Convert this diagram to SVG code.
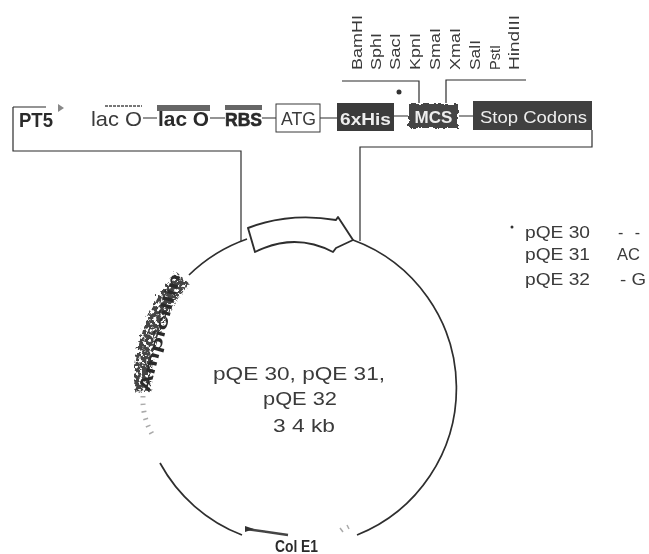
<svg xmlns="http://www.w3.org/2000/svg" width="649" height="554" viewBox="0 0 649 554">
<defs><filter id="blur" x="-5%" y="-5%" width="110%" height="110%"><feGaussianBlur stdDeviation="0.55"/></filter>
<filter id="rough" x="-20%" y="-20%" width="140%" height="140%"><feTurbulence type="fractalNoise" baseFrequency="0.3" numOctaves="2" seed="4"/><feDisplacementMap in="SourceGraphic" scale="5"/></filter>
<filter id="mottle" x="-20%" y="-10%" width="140%" height="120%"><feTurbulence type="fractalNoise" baseFrequency="0.28" numOctaves="3" seed="9" result="n"/><feDisplacementMap in="SourceGraphic" in2="n" scale="9" result="d"/><feColorMatrix in="n" type="matrix" values="0 0 0 0 0 0 0 0 0 0 0 0 0 0 0 0 0 0 9 -3.300" result="a"/><feComposite in="d" in2="a" operator="in"/></filter></defs>
<style>
.l{fill:none;stroke:#2e2e2e;stroke-width:1.2}
.c{fill:none;stroke:#2e2e2e;stroke-width:1.7}
.t{font-family:"Liberation Sans",Arial,sans-serif;fill:#3a3a3a}
.b{font-weight:bold;fill:#2a2a2a}
.w{fill:#eee;font-family:"Liberation Sans",Arial,sans-serif}
.d{fill:#333}
</style>
<rect width="649" height="554" fill="#fff"/>
<g filter="url(#blur)">
<g id="connectors">
<path class="l" d="M13 107V151H241V241"/>
<path class="l" d="M592 130V147H360V241"/>
<path class="l" d="M143 118H157M210 118H225M262 118H276M320 118H337M394 116H408M459 116H473"/>
<path class="l" d="M342 81H419V103M446 103V80H526"/>
</g>
<g id="plasmid">
<path class="c" d="M247 239A158 158 0 0 0 189 275"/>
<path class="c" d="M353 240A158 158 0 0 1 357 535"/>
<path class="c" d="M160 463A158 158 0 0 0 242 535"/>
</g>
<g id="promoter-arrow"><path d="M248 228Q290 212 336 220L338 217L353 240L336 248L333 252Q295 232 255 252Z" fill="#fff" stroke="#2e2e2e" stroke-width="1.9" stroke-linejoin="round"/></g>
<g id="PT5"><path class="l" d="M13 107H46"/><text class="t b" x="19" y="127" font-size="21" textLength="34" lengthAdjust="spacingAndGlyphs">PT5</text><path d="M58 104l6 4-6 4z" fill="#888"/></g>
<g id="lacO1"><path d="M105 106H142" stroke="#777" stroke-width="2" stroke-dasharray="3 1"/><text class="t" x="91" y="126" font-size="21" textLength="51" lengthAdjust="spacingAndGlyphs">lac O</text></g>
<g id="lacO2"><rect x="157" y="105" width="53" height="6" fill="#666"/><text class="t b" x="158" y="126" font-size="21" textLength="51" lengthAdjust="spacingAndGlyphs">lac O</text></g>
<g id="RBS"><rect x="225" y="105" width="37" height="5" fill="#666"/><text class="t b" x="225" y="126" font-size="18" stroke="#2a2a2a" stroke-width=".6" textLength="37" lengthAdjust="spacingAndGlyphs">RBS</text></g>
<g id="ATG"><rect x="276" y="104" width="44" height="28" fill="#fff" stroke="#3a3a3a" stroke-width="1"/><text class="t" x="281" y="125" font-size="18" textLength="35" lengthAdjust="spacingAndGlyphs">ATG</text></g>
<g id="sixHis"><rect x="337" y="103" width="57" height="28" fill="#3b3b3b"/><text class="w" x="340" y="125" font-size="17" font-weight="bold" textLength="51" lengthAdjust="spacingAndGlyphs">6xHis</text></g>
<g id="MCS"><rect x="409" y="104" width="49" height="24" fill="#444" filter="url(#rough)"/><text class="w" x="433.500" y="123" font-size="17" font-weight="bold" text-anchor="middle">MCS</text></g>
<g id="stop"><rect x="473" y="101" width="119" height="29" fill="#3f3f3f"/><text class="w" x="480" y="123" font-size="17" textLength="107" lengthAdjust="spacingAndGlyphs">Stop Codons</text></g>
<g id="sites" class="t" font-size="15">
<text transform="translate(362 70)rotate(-90)" textLength="55" lengthAdjust="spacingAndGlyphs">BamHI</text>
<text transform="translate(381 70)rotate(-90)" textLength="37" lengthAdjust="spacingAndGlyphs">SphI</text>
<text transform="translate(400 70)rotate(-90)" textLength="37" lengthAdjust="spacingAndGlyphs">SacI</text>
<text transform="translate(420 70)rotate(-90)" textLength="37" lengthAdjust="spacingAndGlyphs">KpnI</text>
<text transform="translate(440 70)rotate(-90)" textLength="42" lengthAdjust="spacingAndGlyphs">SmaI</text>
<text transform="translate(460 70)rotate(-90)" textLength="42" lengthAdjust="spacingAndGlyphs">XmaI</text>
<text transform="translate(480 70)rotate(-90)" textLength="30" lengthAdjust="spacingAndGlyphs">SalI</text>
<text transform="translate(500 70)rotate(-90)" textLength="25" lengthAdjust="spacingAndGlyphs">PstI</text>
<text transform="translate(519 70)rotate(-90)" textLength="55" lengthAdjust="spacingAndGlyphs">HindIII</text>
</g>
<circle class="d" cx="399" cy="92" r="2.500"/>
<g id="ampicillin"><path d="M183 278A158 158 0 0 0 143 392" fill="none" stroke="#444" stroke-width="17" filter="url(#mottle)"/><text transform="translate(149 393)rotate(-75)" class="t b" font-size="16" textLength="122" lengthAdjust="spacingAndGlyphs">Ampicillin</text><path d="M143 396q-1 20 9 38" fill="none" stroke="#aaa" stroke-width="5" stroke-dasharray="1.500 6"/></g>
<g id="colE1"><path d="M246 529L288 535" fill="none" stroke="#444" stroke-width="2.500"/><path d="M245 526l9 3-9 3z" fill="#333"/><path d="M340 528l3 4M347 525l2 4" stroke="#aaa" stroke-width="1.500"/><text class="t b" x="275" y="552" font-size="16" textLength="43" lengthAdjust="spacingAndGlyphs">Col E1</text></g>
<g id="label" class="t" font-size="19"><text x="213" y="380" textLength="172" lengthAdjust="spacingAndGlyphs">pQE 30, pQE 31,</text><text x="263" y="405" textLength="74" lengthAdjust="spacingAndGlyphs">pQE 32</text><text x="273" y="432" textLength="62" lengthAdjust="spacingAndGlyphs">3 4 kb</text></g>
<g id="legend" class="t" font-size="16"><circle cx="512" cy="227" r="1.500" class="d"/><text x="525" y="238" textLength="65" lengthAdjust="spacingAndGlyphs">pQE 30</text><text x="525" y="260" textLength="65" lengthAdjust="spacingAndGlyphs">pQE 31</text><text x="525" y="285" textLength="65" lengthAdjust="spacingAndGlyphs">pQE 32</text><text x="618" y="238" textLength="22">- -</text><text x="617" y="260" textLength="23" lengthAdjust="spacingAndGlyphs">AC</text><text x="620" y="285" textLength="26" lengthAdjust="spacingAndGlyphs">- G</text></g>
</g>
</svg>
